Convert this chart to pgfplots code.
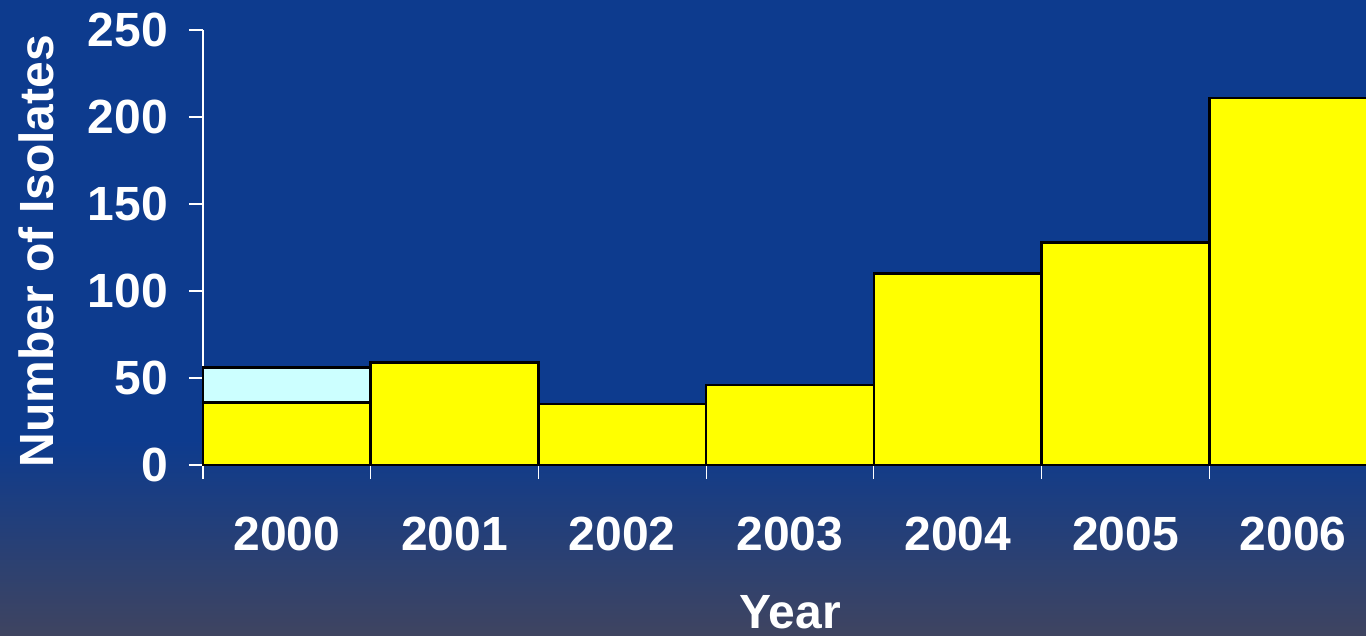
\documentclass[border=0pt]{standalone}
\usepackage{pgfplots}
\pgfplotsset{compat=1.18}
\usepackage{fontspec}
\setmainfont{Liberation Sans}
\definecolor{bgblue}{HTML}{0D3B8E}
\definecolor{bgbot}{HTML}{3F4460}
\definecolor{barcyan}{HTML}{CCFFFF}
\definecolor{baryellow}{HTML}{FFFF00}
\begin{document}
\begin{tikzpicture}
\useasboundingbox (0,0) rectangle (683pt,318pt);
\clip (0,0) rectangle (683pt,318pt);
\fill[bgblue] (0,0) rectangle (683pt,318pt);
\shade[top color=bgblue, bottom color=bgbot] (0,0) rectangle (683pt,98pt);
\begin{axis}[
  at={(101.5pt,85.5pt)}, anchor=south west,
  scale only axis, width=587pt, height=217.5pt,
  xmin=-0.5, xmax=6.5, ymin=0, ymax=250,
  axis x line=bottom, axis y line=left,
  axis line style={white, line width=0.6pt, -},
  tick style={white, line width=0.6pt},
  tick align=outside, major tick length=7pt,
  xtick={-0.5,0.5,...,6.5},
  xticklabels={2000,2001,2002,2003,2004,2005,2006},
  ytick={0,50,...,250},
  /pgf/number format/assume math mode=true,
  xticklabel style={font=\fontsize{24}{24}\selectfont\bfseries, text=white, anchor=base, xshift=41.93pt, yshift=-36pt},
  yticklabel style={font=\fontsize{24}{24}\selectfont\bfseries, text=white, xshift=-7pt},
  xlabel={Year}, ylabel={Number of Isolates},
  label style={font=\fontsize{24}{24}\selectfont\bfseries, text=white},
  xlabel style={at={(axis description cs:0.5,0)}, anchor=base, yshift=-82pt},
  ylabel style={at={(axis description cs:-0.1422,0.492)}, anchor=center},
  ybar stacked, bar width=1,
  clip=false,
]
\addplot[fill=baryellow, draw=black, line width=1.3pt] coordinates {(0,36) (1,59) (2,35) (3,46) (4,110) (5,128) (6,211)};
\addplot[fill=barcyan, draw=black, line width=1.3pt] coordinates {(0,20)};
\end{axis}
\end{tikzpicture}
\end{document}
